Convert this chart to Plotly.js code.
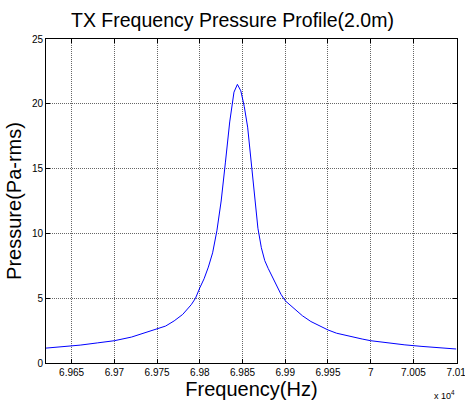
<!DOCTYPE html>
<html>
<head>
<meta charset="utf-8">
<script src="https://cdn.plot.ly/plotly-3.0.1.min.js"></script>
<style>html,body{margin:0;padding:0;background:#fff;}#chart{width:465px;height:402px;}</style>
</head>
<body>
<div id="chart"></div>
<script>
const freqHz = [69620,69640,69660,69680,69700,69720,69730,69740,69750,69760,69770,69780,69790,69795,69800,69805,69810,69815,69820,69825,69830,69835,69840,69844,69848,69852,69856,69860,69864,69868,69872,69876,69880,69885,69890,69895,69900,69910,69920,69930,69940,69950,69960,69975,69990,70000,70020,70040,70060,70080,70100];
const pressure = [1.15,1.25,1.38,1.55,1.72,2.0,2.2,2.4,2.6,2.85,3.25,3.75,4.5,5.0,5.8,6.5,7.4,8.5,10.2,12.5,15.5,18.6,20.9,21.5,21.0,19.8,18.2,15.4,12.8,10.4,8.9,7.9,7.3,6.6,5.9,5.3,4.8,4.2,3.65,3.2,2.85,2.55,2.3,2.05,1.85,1.72,1.55,1.4,1.28,1.17,1.08];
const xTickVals = [69650,69700,69750,69800,69850,69900,69950,70000,70050,70100];
const xTickText = ["6.965","6.97","6.975","6.98","6.985","6.99","6.995","7","7.005","7.01"];
const yTickVals = [0,5,10,15,20,25];

const fontFam = 'Liberation Sans, Arial, sans-serif';
const gridCol = 'rgba(0,0,0,0.6)';
Plotly.newPlot('chart', [{
  x: freqHz, y: pressure, type: 'scatter', mode: 'lines',
  line: {color: '#0000ff', width: 1}, hoverinfo: 'skip'
}], {
  width: 465, height: 402,
  margin: {l: 46, r: 8, t: 39, b: 39},
  paper_bgcolor: '#fff', plot_bgcolor: '#fff',
  showlegend: false,
  font: {family: fontFam, color: '#000'},
  title: {text: 'TX Frequency Pressure Profile(2.0m)', font: {size: 19.5, family: fontFam, color: '#000'}, x: 0.5, xanchor: 'center', y: 0.95, yanchor: 'middle'},
  xaxis: {
    range: [69620, 70101], tickmode: 'array', tickvals: xTickVals, ticktext: xTickText,
    ticks: 'inside', ticklen: 4, tickcolor: '#000', mirror: 'ticks',
    showline: true, linecolor: '#000', linewidth: 1, ticklabeloverflow: 'allow',
    showgrid: true, gridcolor: gridCol, griddash: '1px,1px', gridwidth: 1,
    zeroline: false, tickfont: {size: 10, family: fontFam},
    title: {text: 'Frequency(Hz)', font: {size: 20, family: fontFam}, standoff: 2}
  },
  yaxis: {
    range: [0, 25], tickmode: 'array', tickvals: yTickVals,
    ticks: 'inside', ticklen: 4, tickcolor: '#000', mirror: 'ticks',
    showline: true, linecolor: '#000', linewidth: 1,
    showgrid: true, gridcolor: gridCol, griddash: '1px,1px', gridwidth: 1,
    zeroline: false, tickfont: {size: 10, family: fontFam},
    title: {text: 'Pressure(Pa-rms)', font: {size: 20, family: fontFam}, standoff: 4}
  },
  annotations: [{
    text: 'x 10<sup>4</sup>', xref: 'paper', yref: 'paper', x: 1.0, y: -0.075,
    xanchor: 'right', yanchor: 'top', showarrow: false, font: {size: 9, family: fontFam}
  }]
}, {staticPlot: true});
</script>
</body>
</html>
